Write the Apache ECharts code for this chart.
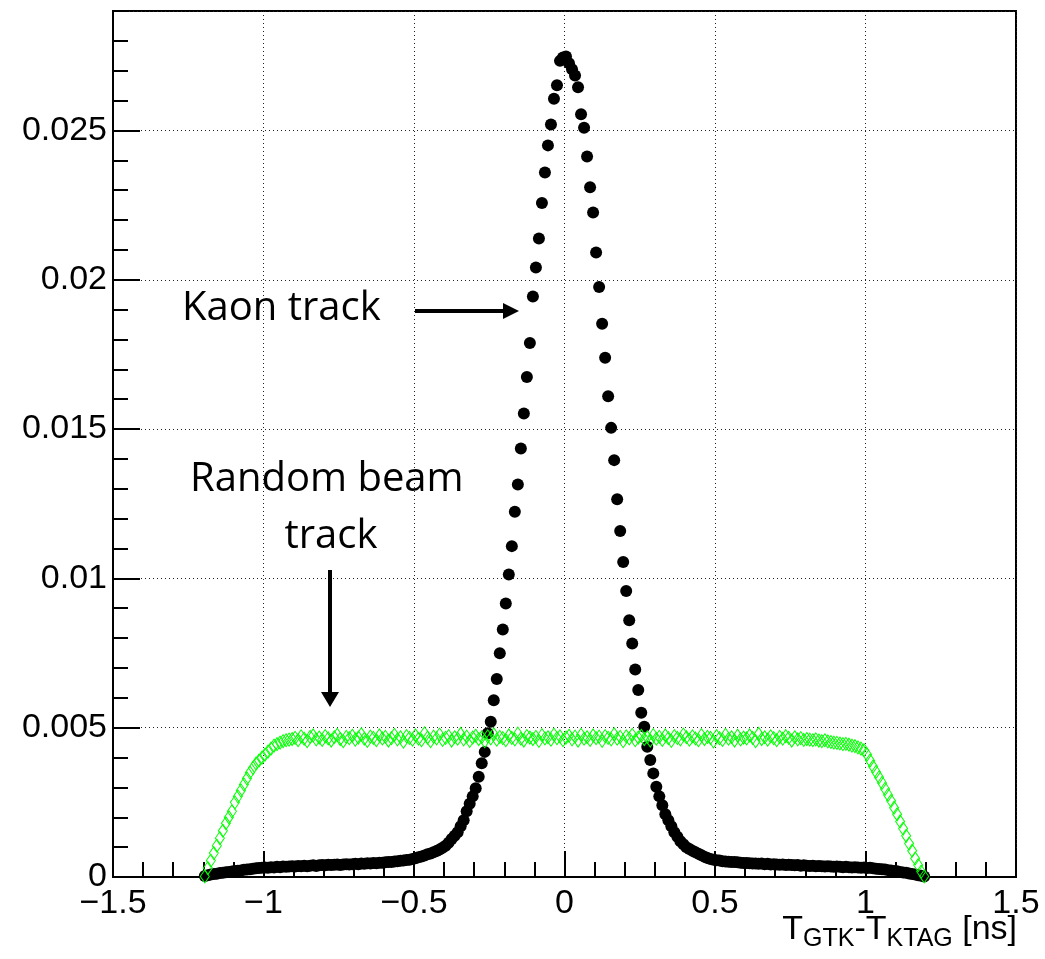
<!DOCTYPE html>
<html>
<head>
<meta charset="utf-8">
<script src="https://cdn.jsdelivr.net/npm/echarts@6/dist/echarts.min.js"></script>
<style>
html,body{margin:0;padding:0;background:#fff;}
#chart{width:1045px;height:959px;}
</style>
</head>
<body>
<div id="chart"></div>
<script>
// Histogram binning (bin centers at binLow + (i+0.5)*binWidth)
const binLow = -1.2;
const binWidth = 0.01;

// Kaon track (black full circles), 240 bins from -1.2 to 1.2
const kaonTrack = [
  0.00003, 0.00006, 0.00008, 0.0001, 0.00011, 0.00013, 0.00014, 0.00016, 0.00017, 0.00018,
  0.0002, 0.00021, 0.00022, 0.00024, 0.00025, 0.00026, 0.00028, 0.00029, 0.0003, 0.00031,
  0.00032, 0.00031, 0.00033, 0.00032, 0.00034, 0.00033, 0.00035, 0.00034, 0.00035, 0.00036,
  0.00035, 0.00037, 0.00036, 0.00038, 0.00036, 0.00038, 0.00039, 0.00037, 0.00039, 0.0004,
  0.00039, 0.00041, 0.0004, 0.00041, 0.00042, 0.0004, 0.00042, 0.00043, 0.00042, 0.00043,
  0.00044, 0.00043, 0.00045, 0.00044, 0.00046, 0.00045, 0.00047, 0.00046, 0.00048, 0.00048,
  0.00049, 0.0005, 0.0005, 0.00052, 0.00053, 0.00054, 0.00055, 0.00057, 0.00058, 0.0006,
  0.00063, 0.00066, 0.00069, 0.00072, 0.00076, 0.00079, 0.00083, 0.00087, 0.00092, 0.00098,
  0.00105, 0.00115, 0.00127, 0.00138, 0.0015, 0.0017, 0.0019, 0.0022, 0.00245, 0.0027,
  0.00297, 0.00336, 0.00381, 0.00419, 0.00481, 0.0052, 0.00592, 0.00663, 0.00749, 0.00829,
  0.00916, 0.01013, 0.01108, 0.01223, 0.01314, 0.01435, 0.01552, 0.01674, 0.01788, 0.01944,
  0.02041, 0.02138, 0.02257, 0.02359, 0.0245, 0.0252, 0.02606, 0.02651, 0.02733, 0.02744,
  0.02748, 0.02725, 0.02705, 0.02684, 0.02645, 0.02554, 0.02509, 0.02413, 0.0231, 0.02225,
  0.02091, 0.01976, 0.01853, 0.01739, 0.0161, 0.01504, 0.01396, 0.01265, 0.01159, 0.01055,
  0.00958, 0.0086, 0.00782, 0.00695, 0.00626, 0.0055, 0.00503, 0.00436, 0.00392, 0.00347,
  0.00302, 0.0027, 0.0024, 0.0021, 0.0019, 0.0017, 0.0015, 0.00135, 0.0012, 0.0011,
  0.001, 0.00094, 0.00088, 0.00083, 0.00078, 0.00073, 0.00068, 0.00064, 0.0006, 0.00058,
  0.00056, 0.00055, 0.00053, 0.00052, 0.00051, 0.0005, 0.0005, 0.00049, 0.00048, 0.00047,
  0.00047, 0.00046, 0.00045, 0.00045, 0.00044, 0.00045, 0.00043, 0.00044, 0.00042, 0.00043,
  0.00042, 0.00041, 0.00042, 0.0004, 0.00041, 0.0004, 0.00039, 0.0004, 0.00038, 0.00039,
  0.00038, 0.00037, 0.00038, 0.00036, 0.00037, 0.00036, 0.00035, 0.00036, 0.00035, 0.00034,
  0.00035, 0.00034, 0.00033, 0.00034, 0.00033, 0.00032, 0.00033, 0.00032, 0.00031, 0.00032,
  0.0003, 0.00031, 0.00029, 0.00028, 0.00027, 0.00026, 0.00025, 0.00023, 0.00022, 0.0002,
  0.00019, 0.00017, 0.00015, 0.00014, 0.00012, 0.0001, 0.00008, 0.00006, 0.00004, 0.00002
];

// Random beam track (green open diamonds), 240 bins from -1.2 to 1.2
const randomBeamTrack = [
  0.00002, 0.0003, 0.00055, 0.0008, 0.00105, 0.0013, 0.00155, 0.0018, 0.002, 0.0022,
  0.0025, 0.0027, 0.0029, 0.0031, 0.0033, 0.0035, 0.00365, 0.0038, 0.0039, 0.004,
  0.0041, 0.0042, 0.0043, 0.0044, 0.00445, 0.0045, 0.00455, 0.00458, 0.0046, 0.00462,
  0.00466, 0.00458, 0.00471, 0.00463, 0.00455, 0.00469, 0.00474, 0.00461, 0.00467, 0.00459,
  0.00472, 0.00464, 0.00457, 0.00468, 0.00476, 0.00462, 0.00455, 0.00469, 0.00465, 0.00473,
  0.0046, 0.00467, 0.00478, 0.00463, 0.00456, 0.0047, 0.00466, 0.00458, 0.00474, 0.00464,
  0.00469, 0.00457, 0.00465, 0.00476, 0.00461, 0.00468, 0.00453, 0.00472, 0.00466, 0.0046,
  0.00474, 0.00463, 0.00458, 0.00481, 0.00467, 0.00455, 0.0047, 0.00464, 0.00477, 0.00459,
  0.00466, 0.00472, 0.00457, 0.00468, 0.00463, 0.00479, 0.00461, 0.0047, 0.00456, 0.00467,
  0.00473, 0.00462, 0.00468, 0.00455, 0.00471, 0.00464, 0.00478, 0.0046, 0.00469, 0.00465,
  0.00458, 0.00474, 0.00466, 0.00461, 0.0048, 0.00463, 0.00457, 0.00472, 0.00467, 0.00462,
  0.00469, 0.00456, 0.00475, 0.00464, 0.00468, 0.0046, 0.00477, 0.00465, 0.00471, 0.00458,
  0.00467, 0.00473, 0.00461, 0.0047, 0.00457, 0.00476, 0.00463, 0.00468, 0.00459, 0.00474,
  0.00465, 0.0047, 0.00456, 0.00472, 0.00466, 0.00461, 0.00478, 0.00463, 0.00469, 0.00455,
  0.00471, 0.00464, 0.00476, 0.00458, 0.00467, 0.00473, 0.00462, 0.00468, 0.00457, 0.00475,
  0.00463, 0.00469, 0.00459, 0.00474, 0.00465, 0.00456, 0.00472, 0.00466, 0.00461, 0.00477,
  0.00468, 0.0046, 0.00471, 0.00464, 0.00458, 0.00475, 0.00462, 0.00469, 0.00466, 0.00454,
  0.00472, 0.00465, 0.00459, 0.00476, 0.00463, 0.00468, 0.00457, 0.00473, 0.00461, 0.00467,
  0.00464, 0.00474, 0.00466, 0.00455, 0.00479, 0.00462, 0.00468, 0.0046, 0.00471, 0.00465,
  0.00458, 0.00469, 0.00463, 0.00472, 0.00466, 0.00457, 0.00468, 0.00461, 0.00465, 0.00459,
  0.00462, 0.0046, 0.00458, 0.00461, 0.00457, 0.00455, 0.00458, 0.00454, 0.00452, 0.0045,
  0.00449, 0.00447, 0.00445, 0.00446, 0.00443, 0.0044, 0.00438, 0.00434, 0.0043, 0.00425,
  0.0041, 0.0039, 0.0037, 0.00352, 0.00334, 0.00315, 0.00295, 0.00275, 0.00255, 0.00232,
  0.0021, 0.00186, 0.00162, 0.00138, 0.00112, 0.00088, 0.00062, 0.0004, 0.00018, 0.00002
];

// Axis ranges / tick steps
const xRange = [-1.5, 1.5];
const xMajor = 0.5;
const yRange = [0, 0.029];
const yMajor = 0.005;
const yMinor = 0.001;

// x-axis title pieces: [text, isSubscript]
const xTitleParts = [['T', false], ['GTK', true], ['-T', false], ['KTAG', true], [' [ns]', false]];
const kaonLabel = 'Kaon track';
const randomLabel1 = 'Random beam';
const randomLabel2 = 'track';

const toPoints = arr => arr.map((v, i) => [+(binLow + (i + 0.5) * binWidth).toFixed(3), v]);

const AX_FONT = '"Liberation Sans", Arial, Helvetica, sans-serif';
const NOTE_FONT = '"Open Sans", "Noto Sans", sans-serif';

// Build x-axis title as separate text pieces, laid out right-to-left from the frame edge
const measureCtx = document.createElement('canvas').getContext('2d');
function buildTitle(rightX, mainY, subY) {
  const out = [];
  let x = rightX;
  for (let i = xTitleParts.length - 1; i >= 0; i--) {
    const [txt, sub] = xTitleParts[i];
    const fs = sub ? 25 : 34;
    const font = fs + 'px ' + AX_FONT;
    measureCtx.font = font;
    const w = measureCtx.measureText(txt).width;
    out.push({
      type: 'text', z: 10,
      style: {x: x, y: sub ? subY : mainY, text: txt, textAlign: 'right', textVerticalAlign: 'middle', font: font, fill: '#000'}
    });
    x -= w;
  }
  return out;
}

const chart = echarts.init(document.getElementById('chart'), null, {renderer: 'canvas'});

const option = {
  animation: false,
  backgroundColor: '#fff',
  grid: {
    left: 113, right: 29, top: 11, bottom: 82,
    show: true, borderColor: '#000', borderWidth: 2, backgroundColor: 'transparent'
  },
  xAxis: {
    type: 'value', min: xRange[0], max: xRange[1], interval: xMajor,
    axisLine: {show: true, onZero: false, lineStyle: {color: '#000', width: 2}},
    axisTick: {show: true, inside: true, length: 26, lineStyle: {color: '#000', width: 2}},
    minorTick: {show: true, splitNumber: 5, length: 15, lineStyle: {color: '#000', width: 2}},
    splitLine: {show: true, lineStyle: {color: '#222', width: 1, type: [1, 3]}},
    axisLabel: {
      margin: 10, fontSize: 34, color: '#000', fontFamily: AX_FONT,
      formatter: v => (v < 0 ? '\u2212' : '') + String(Math.abs(v))
    }
  },
  yAxis: [
    {
      type: 'value', min: yRange[0], max: yRange[1], interval: yMajor,
      axisLine: {show: true, onZero: false, lineStyle: {color: '#000', width: 2}},
      axisTick: {show: true, inside: true, length: 27, lineStyle: {color: '#000', width: 2}},
      splitLine: {show: true, lineStyle: {color: '#222', width: 1, type: [1, 3]}},
      axisLabel: {
        margin: 6, fontSize: 34, color: '#000', fontFamily: AX_FONT,
        showMaxLabel: false
      }
    },
    {
      type: 'value', min: yRange[0], max: yRange[1], interval: yMinor, position: 'left',
      axisLine: {show: false, onZero: false},
      axisTick: {show: true, inside: true, length: 15, lineStyle: {color: '#000', width: 2}},
      splitLine: {show: false},
      axisLabel: {show: false}
    }
  ],
  series: [
    {
      name: 'Kaon track', type: 'scatter', yAxisIndex: 0,
      data: toPoints(kaonTrack),
      symbol: 'circle', symbolSize: 12,
      itemStyle: {color: '#000', opacity: 1},
      emphasis: {disabled: true}, z: 2
    },
    {
      name: 'Random beam track', type: 'scatter', yAxisIndex: 0,
      data: toPoints(randomBeamTrack),
      symbol: 'diamond', symbolSize: [9, 13],
      itemStyle: {color: 'rgba(0,0,0,0)', borderColor: '#00ff00', borderWidth: 1, opacity: 1},
      emphasis: {disabled: true}, z: 3
    }
  ],
  graphic: buildTitle(1017, 930, 939).concat([
    {
      type: 'text', z: 10,
      style: {x: 182, y: 309, text: kaonLabel, textAlign: 'left', textVerticalAlign: 'middle',
        font: '40px ' + NOTE_FONT, fill: '#000'}
    },
    {
      type: 'text', z: 10,
      style: {x: 190, y: 480, text: randomLabel1, textAlign: 'left', textVerticalAlign: 'middle',
        font: '40px ' + NOTE_FONT, fill: '#000'}
    },
    {
      type: 'text', z: 10,
      style: {x: 331, y: 537, text: randomLabel2, textAlign: 'center', textVerticalAlign: 'middle',
        font: '40px ' + NOTE_FONT, fill: '#000'}
    },
    {
      type: 'line', z: 10,
      shape: {x1: 415, y1: 311, x2: 504, y2: 311},
      style: {stroke: '#000', lineWidth: 4}
    },
    {
      type: 'polygon', z: 10,
      shape: {points: [[503, 303], [519, 311], [503, 319]]},
      style: {fill: '#000'}
    },
    {
      type: 'line', z: 10,
      shape: {x1: 330, y1: 570, x2: 330, y2: 693},
      style: {stroke: '#000', lineWidth: 4}
    },
    {
      type: 'polygon', z: 10,
      shape: {points: [[321, 692], [330, 707], [339, 692]]},
      style: {fill: '#000'}
    }
  ])
};

chart.setOption(option);
</script>
</body>
</html>
